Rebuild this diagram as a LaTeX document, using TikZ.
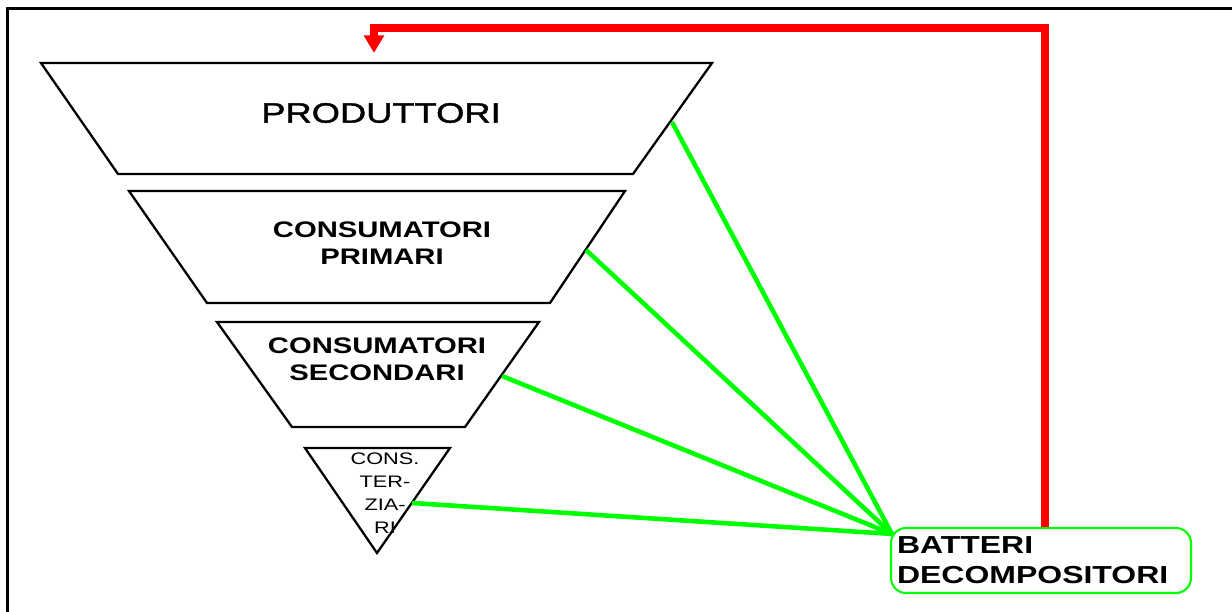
\documentclass[tikz,border=0pt]{standalone}
\usepackage{fontspec}
\setmainfont{Liberation Sans}[FakeStretch=1.3]
\newfontfamily\medio{Liberation Sans}[FakeStretch=1.3, FakeBold=1.5]
\usetikzlibrary{arrows.meta}

\begin{document}
\begin{tikzpicture} [x=0.02cm, y=-0.02cm,
  livello/.style={draw, line width=1.3pt},
  link/.style={draw=green, line width=2.6pt},
  ritorno/.style={draw=red, line width=4pt, -{Triangle[width=11pt,length=10pt]}},
  scatola/.style={draw=green, line width=1.2pt, rounded corners=0.3cm, minimum width=6cm, minimum height=1.3cm, text width=5.76cm, inner xsep=0.12cm, align=left}]
\useasboundingbox (0,0) rectangle (1232,612);
\draw [line width=1.8pt] (7.5,650) -- (7.5,8.5) -- (1260,8.5);
\coordinate (A) at (41,63);
\coordinate (B) at (712,63);
\coordinate (C) at (633,174);
\coordinate (D) at (118,174);
\coordinate (E) at (129,191);
\coordinate (F) at (625,191);
\coordinate (G) at (550,303);
\coordinate (H) at (207,303);
\coordinate (I) at (217,322);
\coordinate (J) at (539,322);
\coordinate (K) at (465,427);
\coordinate (L) at (292,427);
\coordinate (M) at (305,448);
\coordinate (N) at (450,448);
\coordinate (O) at (377,553);
\coordinate (P) at (672,122);
\coordinate (Q) at (586,250);
\coordinate (R) at (502,376);
\coordinate (S) at (412,503);
\coordinate (U) at (374,28);
\coordinate (V) at (374,53);


\draw [livello] (A)--(B)--(C)--(D)--cycle;
\draw [livello] (E)--(F)--(G)--(H)--cycle;
\draw [livello] (I)--(J)--(K)--(L)--cycle;
\draw [livello] (M)--(N)--(O)--cycle;
\node (prod) at (381,113) {\medio\fontsize{15.9}{18}\selectfont PRODUTTORI};
\node (cons1) [align=center, font=\bfseries\fontsize{12.8}{15.4}\selectfont] at (382,243) {CONSUMATORI\\PRIMARI};
\node (cons2) [align=center, font=\bfseries\fontsize{12.8}{15.4}\selectfont] at (377,359) {CONSUMATORI\\SECONDARI};
\node (cons3) [align=center, font=\fontsize{9.5}{13.1}\selectfont] at (385,493) {CONS.\\TER-\\ZIA-\\RI};
\node (batteri) [scatola, font=\bfseries\fontsize{14}{17}\selectfont] at (1041,560.5) {BATTERI\\DECOMPOSITORI};
\coordinate (T) at ([shift={(2,7)}]batteri.north west);

\draw [link] (P) -- (T);
\draw [link] (Q) -- (T);
\draw [link] (R) -- (T);
\draw [link] (S) -- (T);
\draw [ritorno] ([xshift=0.08cm]batteri.north) |- (U) -- (V);
\end{tikzpicture}
\end{document}
